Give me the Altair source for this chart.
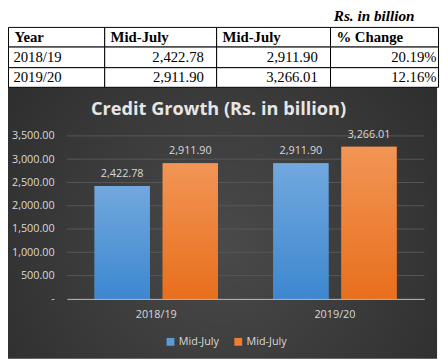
import altair as alt
import pandas as pd

# ---------------- data ----------------
years = ["2018/19", "2019/20"]
mid_july_prev = [2422.78, 2911.90]
mid_july_curr = [2911.90, 3266.01]
pct_change = ["20.19%", "12.16%"]
table_header = ["Year", "Mid-July", "Mid-July", "% Change"]
unit_note = "Rs. in billion"
chart_title = "Credit Growth (Rs. in billion)"
series_keys = ["s1", "s2"]
series_labels = ["Mid-July", "Mid-July"]
y_ticks = [0, 500, 1000, 1500, 2000, 2500, 3000, 3500]

# ---------------- tables built from the lists ----------------
cells = []
for c, h in enumerate(table_header):
    cells.append({"row": 0, "col": c, "txt": h})
for i, yr in enumerate(years):
    cells.append({"row": i + 1, "col": 0, "txt": yr})
    cells.append({"row": i + 1, "col": 1, "txt": f"{mid_july_prev[i]:,.2f}"})
    cells.append({"row": i + 1, "col": 2, "txt": f"{mid_july_curr[i]:,.2f}"})
    cells.append({"row": i + 1, "col": 3, "txt": pct_change[i]})
cells_df = pd.DataFrame(cells)

bars = []
for i, yr in enumerate(years):
    bars.append({"year": yr, "series": series_keys[0], "value": mid_july_prev[i]})
    bars.append({"year": yr, "series": series_keys[1], "value": mid_july_curr[i]})
bars_df = pd.DataFrame(bars)
grid_df = pd.DataFrame({"v": [t for t in y_ticks if t != 0]})

W, H = 440, 354
SERIF = "Liberation Serif"
SANS = "Open Sans"
LIGHT = "#d9d9d9"

# ---------------- table ----------------
tx = alt.Scale(type="linear", domain=[0, 1, 2, 3, 4], range=[0.5, 98.5, 212.5, 328.5, 438.5], zero=False, nice=False)
ty = alt.Scale(type="linear", domain=[0, 1, 2, 3], range=[16.5, 36.5, 57.5, 77.5], zero=False, nice=False)

tbase = alt.Chart(cells_df).transform_calculate(
    c1="datum.col + 1", r1="datum.row + 1", rm="datum.row + 0.5"
)
cell_rects = tbase.mark_rect(fill="white", stroke="black", strokeWidth=1).encode(
    x=alt.X("col:Q", scale=tx, axis=None),
    x2="c1:Q",
    y=alt.Y("row:Q", scale=ty, axis=None),
    y2="r1:Q",
)
hdr = tbase.transform_filter("datum.row == 0").mark_text(
    align="left", baseline="middle", dx=6, font=SERIF, fontSize=15, fontWeight="bold", color="black"
).encode(x=alt.X("col:Q", scale=tx, axis=None), y=alt.Y("rm:Q", scale=ty, axis=None), text="txt:N")
col0 = tbase.transform_filter("datum.row > 0 && datum.col == 0").mark_text(
    align="left", baseline="middle", dx=5, font=SERIF, fontSize=15, color="black"
).encode(x=alt.X("col:Q", scale=tx, axis=None), y=alt.Y("rm:Q", scale=ty, axis=None), text="txt:N")
col12 = tbase.transform_filter("datum.row > 0 && (datum.col == 1 || datum.col == 2)").mark_text(
    align="right", baseline="middle", dx=-13, font=SERIF, fontSize=15, color="black"
).encode(x=alt.X("c1:Q", scale=tx, axis=None), y=alt.Y("rm:Q", scale=ty, axis=None), text="txt:N")
col3 = tbase.transform_filter("datum.row > 0 && datum.col == 3").mark_text(
    align="right", baseline="middle", dx=-2, font=SERIF, fontSize=15, color="black"
).encode(x=alt.X("c1:Q", scale=tx, axis=None), y=alt.Y("rm:Q", scale=ty, axis=None), text="txt:N")
table_layer = alt.layer(cell_rects, hdr, col0, col12, col3)

note = alt.Chart(pd.DataFrame({"t": [unit_note]})).mark_text(
    align="right", baseline="alphabetic", font=SERIF, fontSize=15.5, fontWeight="bold",
    fontStyle="italic", color="black"
).encode(x=alt.value(414), y=alt.value(10), text="t:N")

# ---------------- dark panel ----------------
panel_grad = alt.RadialGradient(
    gradient="radial",
    stops=[alt.GradientStop(color="#4a4a4a", offset=0), alt.GradientStop(color="#282828", offset=1)],
    x1=0.5, y1=0.55, r1=0, x2=0.5, y2=0.55, r2=0.75,
)
panel = alt.Chart(pd.DataFrame({"a": [0]})).mark_rect(fill=panel_grad).encode(
    x=alt.value(0), x2=alt.value(437), y=alt.value(77), y2=alt.value(354)
)
title_l = alt.Chart(pd.DataFrame({"t": [chart_title]})).mark_text(
    align="center", baseline="middle", font=SANS, fontSize=18.5, fontWeight="bold", color="#e6e6e6"
).encode(x=alt.value(214.5), y=alt.value(100), text="t:N")

# ---------------- bar chart ----------------
xs = alt.Scale(domain=years, range=[60, 424], paddingInner=0.31, paddingOuter=0.155)
xos = alt.Scale(domain=series_keys, paddingInner=0.19, paddingOuter=0)
ys = alt.Scale(domain=[0, 3500], range=[293, 127], nice=False, zero=True)

label_expr = " : ".join(
    f"datum.value == '{k}' ? '{l}'" for k, l in zip(series_keys, series_labels)
) + " : ''"

grid = alt.Chart(grid_df).mark_rule(color="#585858", strokeWidth=1).encode(
    y=alt.Y("v:Q", scale=ys), x=alt.value(60), x2=alt.value(424)
)

bx = alt.X("year:N", scale=xs, sort=years, axis=alt.Axis(
    orient="bottom", offset=-61, domainColor="#bfbfbf", domainWidth=1, ticks=False, tickSize=0,
    labelPadding=10, labelAngle=0, labelColor=LIGHT, labelFont=SANS, labelFontSize=11,
    title=None, grid=False, zindex=2))
by = alt.Y("value:Q", scale=ys, axis=alt.Axis(
    orient="left", offset=-60, values=y_ticks, domain=False, ticks=False, tickSize=0,
    labelPadding=13, grid=False, title=None, labelColor=LIGHT, labelFont=SANS, labelFontSize=11,
    labelExpr="datum.value == 0 ? '-' : format(datum.value, ',.2f')", zindex=2))
bxo = alt.XOffset("series:N", scale=xos, sort=series_keys)

flat = alt.Chart(bars_df).mark_bar().encode(
    x=bx, y=by, xOffset=bxo,
    color=alt.Color("series:N", sort=series_keys,
                    scale=alt.Scale(domain=series_keys, range=["#5b9bd5", "#ed7d31"]),
                    legend=alt.Legend(orient="none", legendX=160, legendY=331, direction="horizontal",
                                      title=None, labelExpr=label_expr, symbolType="square",
                                      symbolSize=64, symbolStrokeWidth=0, labelColor=LIGHT,
                                      labelFont=SANS, labelFontSize=11, columnPadding=14,
                                      labelOffset=3)),
)

def grad(top, bottom):
    return alt.LinearGradient(
        gradient="linear",
        stops=[alt.GradientStop(color=top, offset=0), alt.GradientStop(color=bottom, offset=1)],
        x1=0, x2=0, y1=0, y2=1,
    )

g1 = alt.Chart(bars_df).transform_filter(alt.datum.series == series_keys[0]).mark_bar(
    fill=grad("#72a8de", "#3d87d0")).encode(x=bx, y=by, xOffset=bxo)
g2 = alt.Chart(bars_df).transform_filter(alt.datum.series == series_keys[1]).mark_bar(
    fill=grad("#f29556", "#e86f1c")).encode(x=bx, y=by, xOffset=bxo)

labels = alt.Chart(bars_df).mark_text(
    baseline="middle", dy=-12, font=SANS, fontSize=11, color=LIGHT
).encode(x=bx, y=by, xOffset=bxo, text=alt.Text("value:Q", format=",.2f"))

chart_layer = alt.layer(grid, flat, g1, g2, labels)

chart = alt.layer(panel, table_layer, note, title_l, chart_layer).resolve_scale(
    x="independent", y="independent"
).properties(
    width=W, height=H, autosize=alt.AutoSizeParams(type="none"), padding=0, background="white"
).configure_view(strokeWidth=0)

chart.save("out.html", embed_options={"renderer": "svg", "actions": False})
